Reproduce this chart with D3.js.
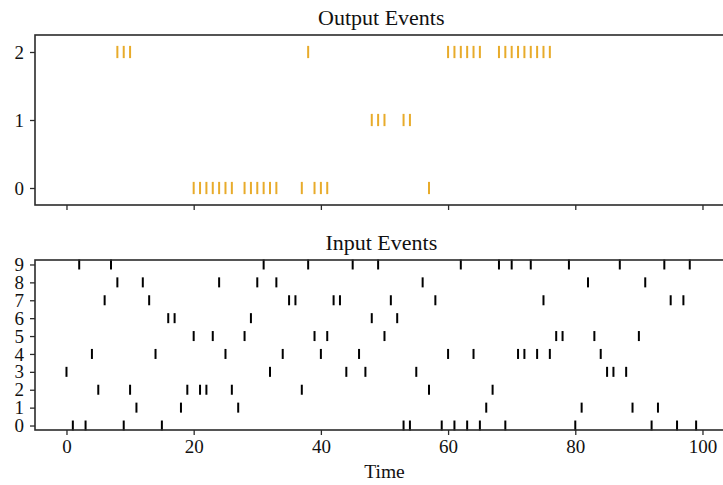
<!DOCTYPE html>
<html>
<head>
<meta charset="utf-8">
<script src="https://cdn.jsdelivr.net/npm/d3@7"></script>
<style>
  html, body { margin: 0; padding: 0; background: #fff; overflow: hidden; }
  svg { display: block; }
  text { font-family: "Liberation Serif", "DejaVu Serif", serif; fill: #111; }
</style>
</head>
<body>
<svg id="chart" width="723" height="485"></svg>
<script>
// ---------------- data ----------------
const outputTitle = "Output Events";
const inputTitle = "Input Events";
const xLabel = "Time";
const xTicks = [0, 20, 40, 60, 80, 100];
const outputRows = [0, 1, 2];
const inputRows = [0, 1, 2, 3, 4, 5, 6, 7, 8, 9];

const output0 = [20, 21, 22, 23, 24, 25, 26, 28, 29, 30, 31, 32, 33, 37, 39, 40, 41, 57];
const output1 = [48, 49, 50, 53, 54];
const output2 = [8, 9, 10, 38, 60, 61, 62, 63, 64, 65, 68, 69, 70, 71, 72, 73, 74, 75, 76];

const input0 = [1, 3, 9, 15, 53, 54, 59, 61, 63, 65, 69, 80, 92, 96, 99];
const input1 = [11, 18, 27, 66, 81, 89, 93];
const input2 = [5, 10, 19, 21, 22, 26, 37, 57, 67];
const input3 = [0, 32, 44, 47, 55, 85, 86, 88];
const input4 = [4, 14, 25, 34, 40, 46, 60, 64, 71, 72, 74, 76, 84];
const input5 = [20, 23, 28, 39, 41, 50, 77, 78, 83, 90];
const input6 = [16, 17, 29, 48, 52];
const input7 = [6, 13, 35, 36, 42, 43, 51, 58, 75, 95, 97];
const input8 = [8, 12, 24, 30, 33, 56, 82, 91];
const input9 = [2, 7, 31, 38, 45, 49, 62, 68, 70, 73, 79, 87, 94, 98];

const outputEvents = [output0, output1, output2];
const inputEvents = [input0, input1, input2, input3, input4, input5, input6, input7, input8, input9];

// ---------------- layout ----------------
const svg = d3.select("#chart");
const left = 35;
const pxPerUnit = 6.36;
const xDomain = [-4.95, 103.95];
const x = d3.scaleLinear().domain(xDomain)
  .range([left, left + (xDomain[1] - xDomain[0]) * pxPerUnit]);

const axisColor = "#2b2b2b";
const tickFont = 19;

function panel(cfg) {
  const y = d3.scaleLinear().domain(cfg.yDomain).range([cfg.bottom, cfg.top]);
  const g = svg.append("g");

  // events
  cfg.events.forEach((times, row) => {
    g.selectAll(null).data(times).enter().append("line")
      .attr("x1", d => x(d)).attr("x2", d => x(d))
      .attr("y1", y(row - cfg.lineLength / 2))
      .attr("y2", y(row + cfg.lineLength / 2))
      .attr("stroke", cfg.color)
      .attr("stroke-width", 2);
  });

  // x axis
  const xa = g.append("g").attr("transform", `translate(0,${cfg.bottom})`)
    .call(d3.axisBottom(x).tickValues(xTicks).tickSize(5).tickSizeOuter(0).tickPadding(5)
      .tickFormat(cfg.showXLabels ? d3.format("d") : () => ""));
  xa.select(".domain").remove();
  xa.selectAll("line").attr("stroke", axisColor).attr("stroke-width", 1.3);
  xa.selectAll("text").attr("font-size", tickFont)
    .attr("font-family", "Liberation Serif, serif").attr("fill", "#111");

  // y axis
  const ya = g.append("g").attr("transform", `translate(${left},0)`)
    .call(d3.axisLeft(y).tickValues(cfg.rows).tickSize(5).tickSizeOuter(0).tickPadding(6)
      .tickFormat(d3.format("d")));
  ya.select(".domain").remove();
  ya.selectAll("line").attr("stroke", axisColor).attr("stroke-width", 1.3);
  ya.selectAll("text").attr("font-size", tickFont)
    .attr("font-family", "Liberation Serif, serif").attr("fill", "#111");

  // frame (spines)
  g.append("rect")
    .attr("x", left).attr("y", cfg.top)
    .attr("width", x.range()[1] - left).attr("height", cfg.bottom - cfg.top)
    .attr("fill", "none").attr("stroke", axisColor).attr("stroke-width", 1.6);

  // title
  g.append("text")
    .attr("x", (left + x.range()[1]) / 2).attr("y", cfg.titleY)
    .attr("text-anchor", "middle").attr("font-size", 22)
    .text(cfg.title);
  return y;
}

panel({
  title: outputTitle, titleY: 25, top: 35, bottom: 205,
  yDomain: [-0.25, 2.25], rows: outputRows, events: outputEvents,
  lineLength: 0.18, color: "#e8ab2a", showXLabels: false
});

panel({
  title: inputTitle, titleY: 250, top: 260, bottom: 430,
  yDomain: [-0.25, 9.25], rows: inputRows, events: inputEvents,
  lineLength: 0.56, color: "#000000", showXLabels: true
});

svg.append("text")
  .attr("x", x(50)).attr("y", 478)
  .attr("text-anchor", "middle").attr("font-size", 19.5)
  .text(xLabel);
</script>
</body>
</html>
